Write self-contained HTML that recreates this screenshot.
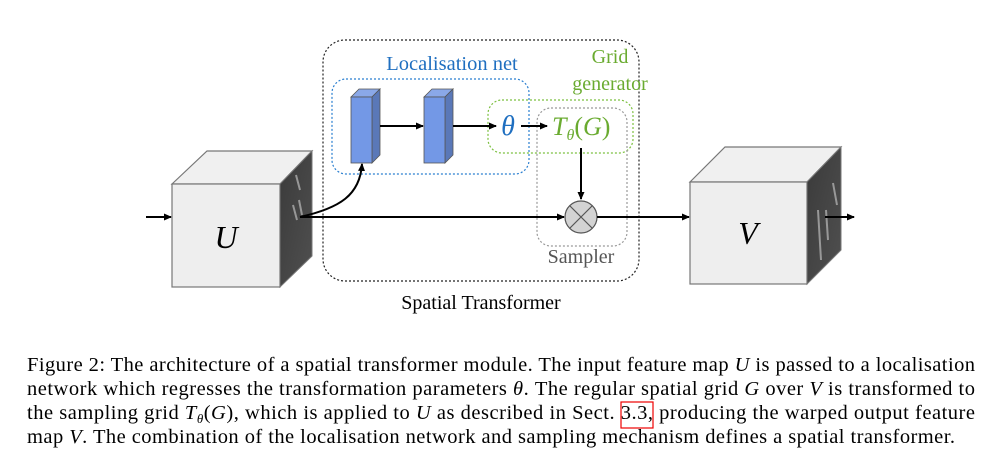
<!DOCTYPE html>
<html><head><meta charset="utf-8"><style>
html,body{margin:0;padding:0;background:#fff;}
svg{display:block}
text{font-family:"Liberation Serif",serif;}
</style></head><body>
<svg width="995" height="469" viewBox="0 0 995 469" xmlns="http://www.w3.org/2000/svg">
<defs>
<marker id="ah" markerWidth="8" markerHeight="8" refX="7" refY="4" orient="auto" markerUnits="userSpaceOnUse">
<path d="M0,0.5 L8,4 L0,7.5 Z" fill="#000"/></marker>
<linearGradient id="dk" x1="0" y1="0" x2="1" y2="1"><stop offset="0" stop-color="#3a3a3a"/><stop offset="1" stop-color="#505050"/></linearGradient>
</defs>

<rect x="323" y="40" width="316" height="241" rx="22" fill="none" stroke="#222" stroke-width="1.2" stroke-dasharray="2,2"/>
<rect x="332" y="79" width="197" height="95" rx="14" fill="none" stroke="#2a7fd0" stroke-width="1.2" stroke-dasharray="2,2"/>
<rect x="488" y="100" width="145" height="53" rx="14" fill="none" stroke="#7cc040" stroke-width="1.2" stroke-dasharray="2,2"/>
<rect x="537" y="108" width="90" height="138" rx="14" fill="none" stroke="#999" stroke-width="1.2" stroke-dasharray="2,2"/>

<text x="452" y="70" font-size="20.5" fill="#1f6fc0" text-anchor="middle">Localisation net</text>
<text x="610" y="63" font-size="20" fill="#6aab30" text-anchor="middle">Grid</text>
<text x="610" y="90" font-size="20" fill="#6aab30" text-anchor="middle">generator</text>
<text x="581" y="263" font-size="20" fill="#555" text-anchor="middle">Sampler</text>
<text x="481" y="309" font-size="20" fill="#000" text-anchor="middle">Spatial Transformer</text>

<g stroke="#555" stroke-width="0.8">
<polygon points="351,97 359,89 380,89 372,97" fill="#8aa8e8"/>
<polygon points="372,97 380,89 380,155 372,163" fill="#5a78b8"/>
<rect x="351" y="97" width="21" height="66" fill="#7398e6"/>
<polygon points="424,97 432,89 453,89 445,97" fill="#8aa8e8"/>
<polygon points="445,97 453,89 453,155 445,163" fill="#5a78b8"/>
<rect x="424" y="97" width="21" height="66" fill="#7398e6"/>
</g>
<line x1="380" y1="126" x2="423" y2="126" stroke="#000" stroke-width="2" marker-end="url(#ah)"/>
<line x1="453" y1="126" x2="496" y2="126" stroke="#000" stroke-width="2" marker-end="url(#ah)"/>
<text x="508" y="135" font-size="28" font-style="italic" fill="#1f6fc0" text-anchor="middle">θ</text>
<line x1="521" y1="126" x2="547" y2="126" stroke="#000" stroke-width="2" marker-end="url(#ah)"/>
<text x="552" y="135" font-size="26" font-style="italic" fill="#6aab30">T<tspan font-size="16" dy="5">θ</tspan><tspan dy="-5" font-style="normal">(</tspan>G<tspan font-style="normal">)</tspan></text>
<line x1="581" y1="148" x2="581" y2="199" stroke="#000" stroke-width="2" marker-end="url(#ah)"/>

<polygon points="172,184 207,151 312,151 280,184" fill="#f0f0f0" stroke="#777" stroke-width="1.2"/>
<rect x="172" y="184" width="108" height="103" fill="#eeeeee" stroke="#777" stroke-width="1.2"/>
<polygon points="280,184 312,151 312,256 280,287" fill="url(#dk)" stroke="#777" stroke-width="1"/>
<path d="M296,175 L300,190 M293,205 L297,220 M299,200 L302,215" stroke="#bbb" stroke-width="2" opacity="0.7"/>
<text x="226" y="248" font-size="32" font-style="italic" text-anchor="middle">U</text>
<line x1="146" y1="217" x2="171" y2="217" stroke="#000" stroke-width="2" marker-end="url(#ah)"/>

<path d="M300,217 C340,208 360,195 362,164" fill="none" stroke="#000" stroke-width="2" marker-end="url(#ah)"/>
<line x1="300" y1="217" x2="564" y2="217" stroke="#000" stroke-width="2" marker-end="url(#ah)"/>
<circle cx="581" cy="217" r="16" fill="#d3d3d3" stroke="#555" stroke-width="1.2"/>
<path d="M570,206 L592,228 M592,206 L570,228" stroke="#555" stroke-width="1.2"/>
<line x1="597" y1="217" x2="689" y2="217" stroke="#000" stroke-width="2" marker-end="url(#ah)"/>

<polygon points="690,182 725,147 841,147 807,182" fill="#f0f0f0" stroke="#777" stroke-width="1.2"/>
<rect x="690" y="182" width="117" height="102" fill="#eeeeee" stroke="#777" stroke-width="1.2"/>
<polygon points="807,182 841,147 841,250 807,284" fill="url(#dk)" stroke="#777" stroke-width="1"/>
<path d="M833,183 L837,205 M818,210 L821,260 M826,210 L828,240" stroke="#bbb" stroke-width="2" opacity="0.7"/>
<text x="748" y="244" font-size="32" font-style="italic" text-anchor="middle">V</text>
<line x1="825" y1="217" x2="854" y2="217" stroke="#000" stroke-width="2" marker-end="url(#ah)"/>

<g font-size="20.5" fill="#000">
<text x="27" y="371" textLength="948" lengthAdjust="spacing">Figure 2: The architecture of a spatial transformer module. The input feature map <tspan font-style="italic">U</tspan> is passed to a localisation</text>
<text x="27" y="395" textLength="948" lengthAdjust="spacing">network which regresses the transformation parameters <tspan font-style="italic">θ</tspan>. The regular spatial grid <tspan font-style="italic">G</tspan> over <tspan font-style="italic">V</tspan> is transformed to</text>
<text x="27" y="419" textLength="948" lengthAdjust="spacing">the sampling grid <tspan font-style="italic">T</tspan><tspan font-size="13" font-style="italic" dy="4">θ</tspan><tspan dy="-4">(</tspan><tspan font-style="italic">G</tspan>), which is applied to <tspan font-style="italic">U</tspan> as described in Sect. 3.3, producing the warped output feature</text>
<text x="27" y="443" textLength="928" lengthAdjust="spacing">map <tspan font-style="italic">V</tspan>. The combination of the localisation network and sampling mechanism defines a spatial transformer.</text>
</g>
<rect x="621" y="402" width="32" height="26" fill="none" stroke="#e00" stroke-width="1.2"/>
</svg>
</body></html>
